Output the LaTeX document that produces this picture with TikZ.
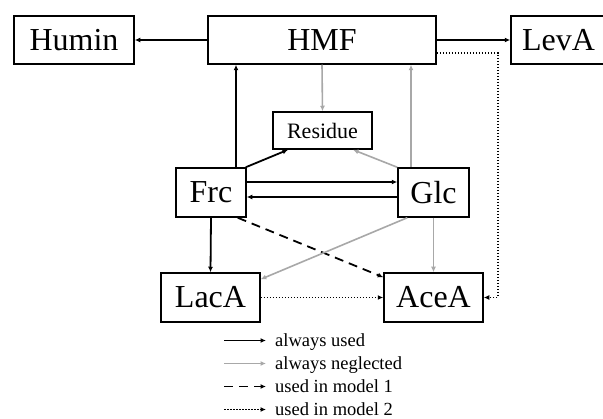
\documentclass[tikz,border=0pt]{standalone}
\usepackage{fontspec}
\setmainfont{Liberation Serif}
\usetikzlibrary{arrows.meta,calc}
\definecolor{lgray}{RGB}{168,168,168}
\begin{document}
\begin{tikzpicture}[x=1pt,y=-1pt,
  box/.style={draw=black,line width=1.5pt,inner sep=0pt,align=center,font=\fontsize{32}{36}\selectfont},
  smallbox/.style={box,font=\fontsize{22}{26}\selectfont},
  tip/.style={-{Latex[length=5.5pt,width=5pt]}},
  used/.style={tip,draw=black,line width=1.8pt},
  neglected/.style={tip,draw=lgray,line width=1.6pt},
  modelone/.style={used,dash pattern=on 9pt off 6pt},
  modeltwo/.style={used,line width=1.9pt,dash pattern=on 1.5pt off 1.5pt},
  legtext/.style={anchor=base west,inner sep=0pt,font=\fontsize{18.5}{22}\selectfont}]
\useasboundingbox (0,0) rectangle (603,419);
\fill[white] (0,0) rectangle (603,419);
% nodes
\node[box,minimum width=120pt,minimum height=48pt] (Humin) at (74,40) {Humin};
\node[box,minimum width=228pt,minimum height=48pt] (HMF) at (322,40) {HMF};
\node[box,minimum width=95pt,minimum height=48pt] (LevA) at (558.5,40) {LevA};
\node[smallbox,minimum width=99pt,minimum height=37pt] (Residue) at (322.5,130.5) {Residue};
\node[box,minimum width=70pt,minimum height=49pt] (Frc) at (211,192.5) {Frc};
\node[box,minimum width=71pt,minimum height=49pt] (Glc) at (433.5,192.5) {Glc};
\node[box,minimum width=99pt,minimum height=49pt] (LacA) at (210.5,297.5) {LacA};
\node[box,minimum width=99pt,minimum height=49pt] (AceA) at (433.5,297.5) {AceA};
% connectors
\draw[used] (HMF.west) -- (Humin.east);
\draw[used] (HMF.east) -- (LevA.west);
\draw[modeltwo] ([yshift=-13pt]HMF.east) -| ([xshift=14pt]AceA.east) -- (AceA.east);
\draw[used] ([xshift=25pt]Frc.north) -- ([xshift=25pt]Frc.north |- HMF.south);
\draw[neglected] (HMF.south) -- (Residue.north);
\draw[neglected] ([xshift=-22.5pt]Glc.north) -- ([xshift=-22.5pt]Glc.north |- HMF.south);
\draw[used] ([xshift=-1pt]Frc.north east) -- ([xshift=-34.5pt]Residue.south);
\draw[neglected] (Glc.north west) -- ([xshift=30.5pt]Residue.south);
\draw[used] ([yshift=10.5pt]Frc.east) -- ([yshift=10.5pt]Glc.west);
\draw[used] ([yshift=-4.5pt]Glc.west) -- ([yshift=-4.5pt]Frc.east);
\draw[used] (Frc.south) -- (LacA.north);
\draw[modelone] ([xshift=-9pt]Frc.south east) -- ([yshift=-5pt]AceA.north west);
\draw[neglected] ([xshift=10pt]Glc.south west) -- ([yshift=-7pt]LacA.north east);
\draw[neglected] (Glc.south) -- (AceA.north);
\draw[modeltwo] (LacA.east) -- (AceA.west);
% legend
\node[legtext] (l1) at (275,346.5) {always used};
\node[legtext] (l2) at (275,369.5) {always neglected};
\node[legtext] (l3) at (275,392.5) {used in model 1};
\node[legtext] (l4) at (275,415.5) {used in model 2};
\coordinate (s1) at (224,340.5);
\coordinate (s2) at (224,363.5);
\coordinate (s3) at (224,386.5);
\coordinate (s4) at (224,409.5);
\draw[used] (s1) -- ([xshift=-9pt,yshift=6pt]l1.base west);
\draw[neglected] (s2) -- ([xshift=-9pt,yshift=6pt]l2.base west);
\draw[modelone] (s3) -- ([xshift=-9pt,yshift=6pt]l3.base west);
\draw[modeltwo] (s4) -- ([xshift=-9pt,yshift=6pt]l4.base west);
\end{tikzpicture}
\end{document}
